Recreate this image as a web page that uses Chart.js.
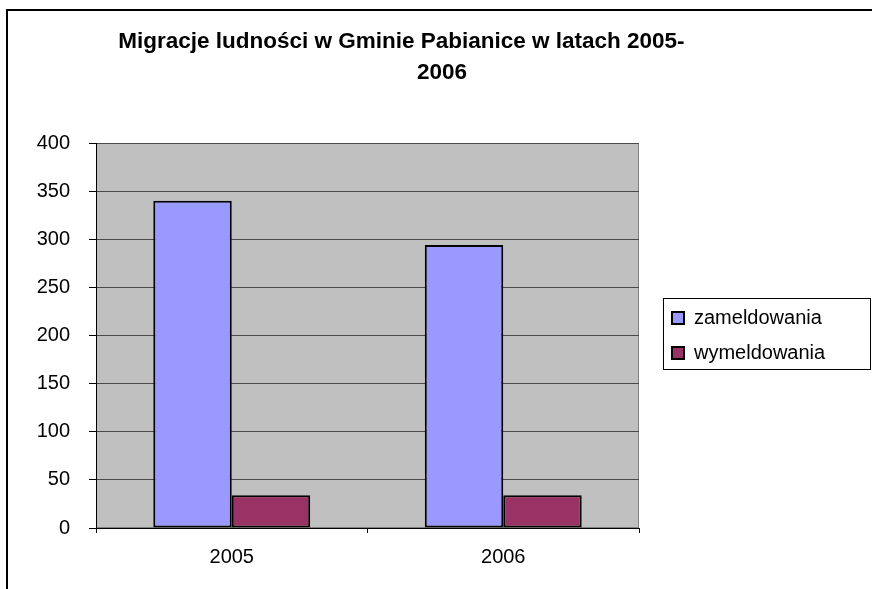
<!DOCTYPE html>
<html>
<head>
<meta charset="utf-8">
<script src="https://cdn.jsdelivr.net/npm/chart.js@4/dist/chart.umd.min.js"></script>
<style>
  html, body { margin: 0; padding: 0; background: #fff; overflow: hidden; }
  #frame { position: absolute; left: 6px; top: 9px; width: 900px; height: 700px;
           border-left: 2px solid #000; border-top: 2px solid #000; }
  #c { position: absolute; left: 0; top: 0; }
</style>
</head>
<body>
<div id="frame"></div>
<canvas id="c" width="872" height="589"></canvas>
<script>
const titleLines = ['Migracje ludności w Gminie Pabianice w latach 2005-', '2006'];
const categories = ['2005', '2006'];
const seriesNames = ['zameldowania', 'wymeldowania'];
const zameldowania = [340, 294];
const wymeldowania = [34, 34];
const yTicks = [0, 50, 100, 150, 200, 250, 300, 350, 400];

const FONT = '"Liberation Sans", Arial, sans-serif';
const NBSP = '\u00a0';

const framePlugin = {
  id: 'framePlugin',
  beforeLayout(chart) {
    const lg = chart.legend;
    if (lg && !lg._patched) {
      const f = lg.fit;
      lg.fit = function () { f.call(this); this.width = 233; };
      lg._patched = true;
    }
  },
  afterLayout(chart) {
    const lg = chart.legend;
    if (lg) { lg.left += 18; lg.right += 18; }
  },
  beforeDraw(chart) {
    const {ctx, chartArea: a} = chart;
    ctx.save();
    ctx.fillStyle = '#C0C0C0';
    ctx.fillRect(a.left, a.top, a.right - a.left, a.bottom - a.top);
    ctx.strokeStyle = '#808080';
    ctx.lineWidth = 1;
    ctx.strokeRect(a.left + 0.5, a.top + 0.5, a.right - a.left - 1, a.bottom - a.top - 1);
    ctx.restore();
  },
  afterDraw(chart) {
    const lg = chart.legend;
    if (!lg || !lg.columnSizes || !lg.columnSizes.length) return;
    const pad = lg.options.labels.padding;
    const colH = lg.columnSizes[0].height;
    const y0 = (lg.top + pad + lg.bottom - colH) / 2;
    const x0 = lg.left + pad;
    const ctx = chart.ctx;
    ctx.save();
    ctx.strokeStyle = '#000';
    ctx.lineWidth = 1;
    ctx.strokeRect(Math.round(x0 - 9) + 0.5, Math.round(y0 - 10) + 0.5,
                   chart.width - 1 - Math.round(x0 - 9) - 1, Math.round(colH + 1));
    ctx.restore();
  }
};

new Chart(document.getElementById('c'), {
  type: 'bar',
  data: {
    labels: categories,
    datasets: [
      { label: seriesNames[0], data: zameldowania, backgroundColor: '#9999FF',
        borderColor: '#000', borderWidth: 2, borderSkipped: false },
      { label: seriesNames[1], data: wymeldowania, backgroundColor: '#993366',
        borderColor: '#000', borderWidth: 2, borderSkipped: false }
    ]
  },
  options: {
    responsive: false,
    animation: false,
    devicePixelRatio: 1,
    layout: { padding: { left: 12, right: 0, top: 0, bottom: 0 } },
    datasets: { bar: { categoryPercentage: 0.578, barPercentage: 1.0 } },
    plugins: {
      title: {
        display: true,
        text: [titleLines[0] + NBSP.repeat(13), titleLines[1]],
        color: '#000',
        font: { family: FONT, size: 22.5, weight: 'bold', lineHeight: 31 / 22.5 },
        padding: { top: 26, bottom: 55 }
      },
      legend: {
        display: true,
        position: 'right',
        align: 'center',
        fullSize: false,
        labels: {
          color: '#000',
          font: { family: FONT, size: 20 },
          boxWidth: 12,
          boxHeight: 12,
          padding: 15
        }
      },
      tooltip: { enabled: false }
    },
    scales: {
      x: {
        offset: true,
        grid: { offset: true, drawOnChartArea: false, drawTicks: true, tickLength: 5,
                tickColor: '#000', color: '#000' },
        border: { display: true, color: '#000', width: 1 },
        ticks: { color: '#000', font: { family: FONT, size: 20 }, padding: 12, maxRotation: 0 },
        afterFit(s) { s.height = 61; }
      },
      y: {
        min: 0,
        max: 400,
        afterBuildTicks(s) { s.ticks = yTicks.map(v => ({ value: v })); },
        grid: { color: '#4a4a4a', lineWidth: 1, drawTicks: true, tickLength: 7, tickColor: '#000' },
        border: { display: true, color: '#000', width: 1 },
        ticks: { color: '#000', font: { family: FONT, size: 20 }, padding: 19 },
        afterFit(s) { s.width = 84; }
      }
    }
  },
  plugins: [framePlugin]
});
</script>
</body>
</html>
